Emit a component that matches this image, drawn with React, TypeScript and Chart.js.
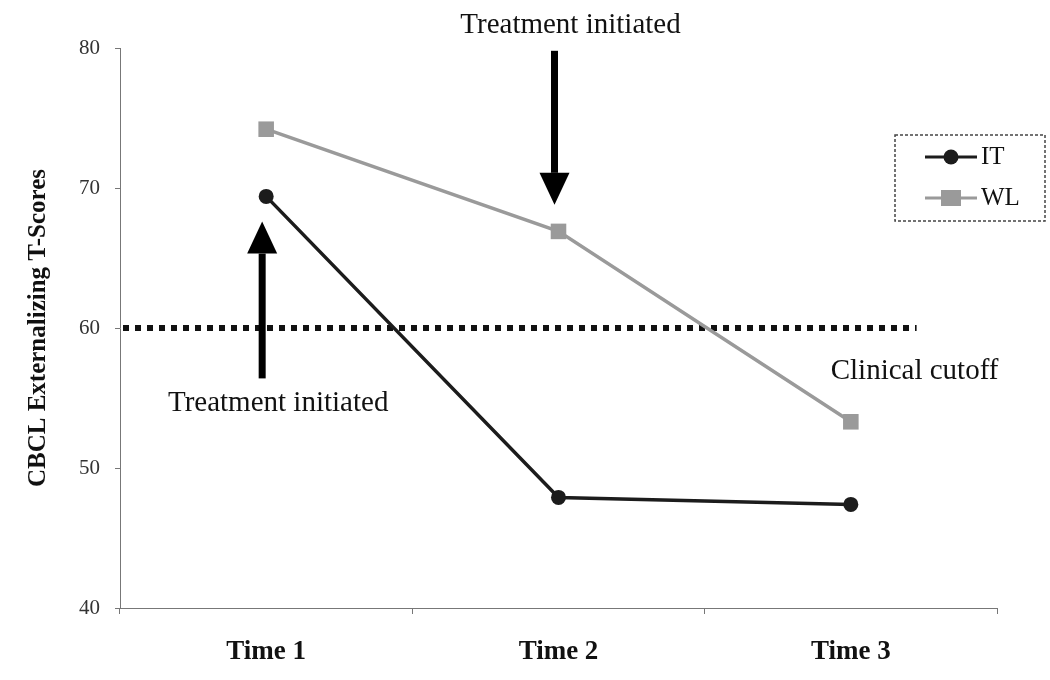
import React, { useEffect, useRef } from "react";
import { Chart, registerables } from "chart.js";
Chart.register(...registerables);

const categories = ["Time 1", "Time 2", "Time 3"];
const seriesLabels = ["IT", "WL"];
const itScores = [69.4, 47.9, 47.4];
const wlScores = [74.2, 66.9, 53.3];
const yMin = 40;
const yMax = 80;
const yStep = 10;
const clinicalCutoff = 60;
const cutoffLabel = "Clinical cutoff";
const yTitle = "CBCL Externalizing T-Scores";
// treatment arrows: category index, start value, tip value
const arrowCategory = [0, 1];
const arrowFrom = [56.4, 79.8];
const arrowTo = [67.6, 68.8];
const arrowText = ["Treatment initiated", "Treatment initiated"];
const arrowTextValue = [54.6, 81.6];

const SERIF = "'Liberation Serif', 'Times New Roman', serif";
const IT_COLOR = "#1c1c1c";
const WL_COLOR = "#9a9a9a";
const ANNOT_SIZE = 29;

const overlayPlugin = {
  id: "overlay",
  beforeDatasetsDraw(chart: any) {
    const { ctx, scales } = chart;
    const x = scales.x;
    const y = scales.y;
    const catW = x.getPixelForValue(1) - x.getPixelForValue(0);
    const yc = y.getPixelForValue(clinicalCutoff);
    ctx.save();
    ctx.strokeStyle = "#111";
    ctx.lineWidth = 6;
    ctx.setLineDash([6, 6]);
    ctx.beginPath();
    ctx.moveTo(chart.chartArea.left + 3, yc);
    ctx.lineTo(x.getPixelForValue(2) + catW * 0.225, yc);
    ctx.stroke();
    ctx.restore();
  },
  afterDraw(chart: any) {
    const { ctx, scales } = chart;
    const x = scales.x;
    const y = scales.y;
    const catW = x.getPixelForValue(1) - x.getPixelForValue(0);
    ctx.save();
    // arrows
    arrowCategory.forEach((ci, i) => {
      const ax = x.getPixelForValue(ci) - 4;
      const y0 = y.getPixelForValue(arrowFrom[i]);
      const y1 = y.getPixelForValue(arrowTo[i]);
      const dir = y1 < y0 ? -1 : 1;
      const headH = 32;
      const headW = 30;
      ctx.fillStyle = "#000";
      ctx.fillRect(ax - 3.5, Math.min(y0, y1 - dir * headH), 7, Math.abs(y1 - dir * headH - y0));
      ctx.beginPath();
      ctx.moveTo(ax, y1);
      ctx.lineTo(ax - headW / 2, y1 - dir * headH);
      ctx.lineTo(ax + headW / 2, y1 - dir * headH);
      ctx.closePath();
      ctx.fill();
      ctx.font = ANNOT_SIZE + "px " + SERIF;
      ctx.textAlign = "center";
      ctx.textBaseline = "middle";
      ctx.fillStyle = "#111";
      ctx.fillText(arrowText[i], ax + 16, y.getPixelForValue(arrowTextValue[i]));
    });
    // clinical cutoff label
    ctx.font = ANNOT_SIZE + "px " + SERIF;
    ctx.textAlign = "center";
    ctx.textBaseline = "middle";
    ctx.fillStyle = "#111";
    ctx.fillText(cutoffLabel, x.getPixelForValue(2) + catW * 0.218, y.getPixelForValue(clinicalCutoff - 3.1));

    // legend
    const lx = 895, ly = 135, lw = 150, lh = 86;
    ctx.strokeStyle = "#444";
    ctx.lineWidth = 1.5;
    ctx.setLineDash([3, 2]);
    ctx.strokeRect(lx, ly, lw, lh);
    ctx.setLineDash([]);
    chart.data.datasets.forEach((ds: any, i: number) => {
      const ey = ly + 22 + i * 41;
      ctx.strokeStyle = ds.borderColor;
      ctx.lineWidth = 3;
      ctx.beginPath();
      ctx.moveTo(lx + 30, ey);
      ctx.lineTo(lx + 82, ey);
      ctx.stroke();
      ctx.fillStyle = ds.backgroundColor;
      if (ds.pointStyle === "circle") {
        ctx.beginPath();
        ctx.arc(lx + 56, ey, 7.5, 0, Math.PI * 2);
        ctx.fill();
      } else {
        ctx.fillRect(lx + 46, ey - 8, 20, 16);
      }
      ctx.fillStyle = "#111";
      ctx.font = "25px " + SERIF;
      ctx.textAlign = "left";
      ctx.textBaseline = "middle";
      ctx.fillText(ds.label, lx + 86, ey);
    });
    ctx.restore();
  },
};

export default function App() {
  const ref = useRef<HTMLCanvasElement>(null);
  useEffect(() => {
    const chart = new Chart(ref.current!, {
      type: "line",
      data: {
        labels: categories,
        datasets: [
          {
            label: seriesLabels[0],
            data: itScores,
            borderColor: IT_COLOR,
            backgroundColor: IT_COLOR,
            borderWidth: 3.5,
            pointStyle: "circle",
            pointRadius: 7.5,
            pointBackgroundColor: IT_COLOR,
            pointBorderWidth: 0,
          },
          {
            label: seriesLabels[1],
            data: wlScores,
            borderColor: WL_COLOR,
            backgroundColor: WL_COLOR,
            borderWidth: 3.5,
            pointStyle: "rect",
            pointRadius: 11,
            pointBackgroundColor: WL_COLOR,
            pointBorderWidth: 0,
          },
        ],
      },
      options: {
        animation: false,
        responsive: false,
        layout: { padding: { top: 48, right: 53, bottom: 0, left: 0 } },
        plugins: { legend: { display: false }, tooltip: { enabled: false } },
        scales: {
          x: {
            offset: true,
            grid: { display: true, drawOnChartArea: false, offset: true, tickLength: 6, color: "#777" },
            border: { display: true, color: "#777", width: 1, dash: [1, 2] },
            ticks: { font: { family: SERIF, size: 27, weight: "bold" }, color: "#111", padding: 22 },
            afterFit: (s: any) => { s.height = 72; },
          },
          y: {
            min: yMin,
            max: yMax,
            ticks: { stepSize: yStep, font: { family: SERIF, size: 21 }, color: "#333", padding: 15 },
            grid: { display: true, drawOnChartArea: false, tickLength: 5, color: "#777" },
            border: { display: true, color: "#777", width: 1, dash: [1, 2] },
            title: {
              display: true,
              text: yTitle,
              font: { family: SERIF, size: 25, weight: "bold" },
              color: "#111",
              padding: { top: 24, bottom: 0 },
            },
            afterFit: (s: any) => { s.width = 120; },
          },
        },
      },
      plugins: [overlayPlugin],
    });
    return () => chart.destroy();
  }, []);
  return (
    <div style={{ position: "fixed", left: 0, top: 0, width: 1050, height: 680, background: "#fff" }}>
      <canvas ref={ref} width={1050} height={680} style={{ width: 1050, height: 680 }} />
    </div>
  );
}
